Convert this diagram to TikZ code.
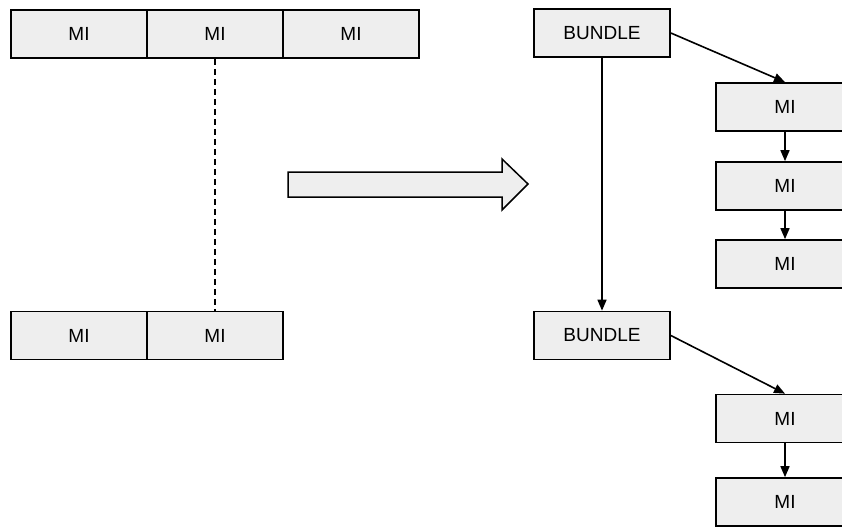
\documentclass[tikz,border=0pt]{standalone}
\usepackage{fontspec}
\setmainfont{Liberation Sans}
\usetikzlibrary{arrows.meta}
\definecolor{boxfill}{HTML}{EEEEEE}
\tikzset{
  cell/.style={draw=black, fill=boxfill, line width=1.7pt, minimum width=136pt,
    minimum height=48pt, inner sep=0pt, font=\fontsize{19}{21}\selectfont},
  link/.style={line width=1.6pt, -{Triangle[length=11pt,width=9pt]}},
  guide/.style={line width=1.6pt, dash pattern=on 6pt off 4pt},
  bigarrow/.style={draw=black, fill=boxfill, line width=1.5pt, line join=miter}
}
\begin{document}
\begin{tikzpicture}[x=1pt,y=-1pt]
\useasboundingbox (0,0) rectangle (842,527);
\clip (0,0) rectangle (842,527);
\fill[white] (0,0) rectangle (842,527);

% instruction word before bundling
\node[cell] (t1) at (79,34) {MI};
\node[cell] (t2) at (215,34) {MI};
\node[cell] (t3) at (351,34) {MI};
\node[cell] (u1) at (79,335.5) {MI};
\node[cell] (u2) at (215,335.5) {MI};
\draw[guide] (t2.south) -- (u2.north);

% transformation arrow
\draw[bigarrow] (288,172) -- (502,172) -- (502,159) -- (528,184) -- (502,210)
  -- (502,197) -- (288,197) -- cycle;

% bundled form
\node[cell] (b1) at (602,33) {BUNDLE};
\node[cell] (b2) at (602,335.5) {BUNDLE};
\node[cell, minimum width=138pt] (m1) at (785,107) {MI};
\node[cell, minimum width=138pt] (m2) at (785,186) {MI};
\node[cell, minimum width=138pt] (m3) at (785,264) {MI};
\node[cell, minimum width=138pt] (m4) at (785,418.5) {MI};
\node[cell, minimum width=138pt] (m5) at (785,502) {MI};

\draw[link] (b1.south) -- (b2.north);
\draw[link] (b1.east) -- (m1.north);
\draw[link] (m1.south) -- (m2.north);
\draw[link] (m2.south) -- (m3.north);
\draw[link] (b2.east) -- (m4.north);
\draw[link] (m4.south) -- (m5.north);
\end{tikzpicture}
\end{document}
